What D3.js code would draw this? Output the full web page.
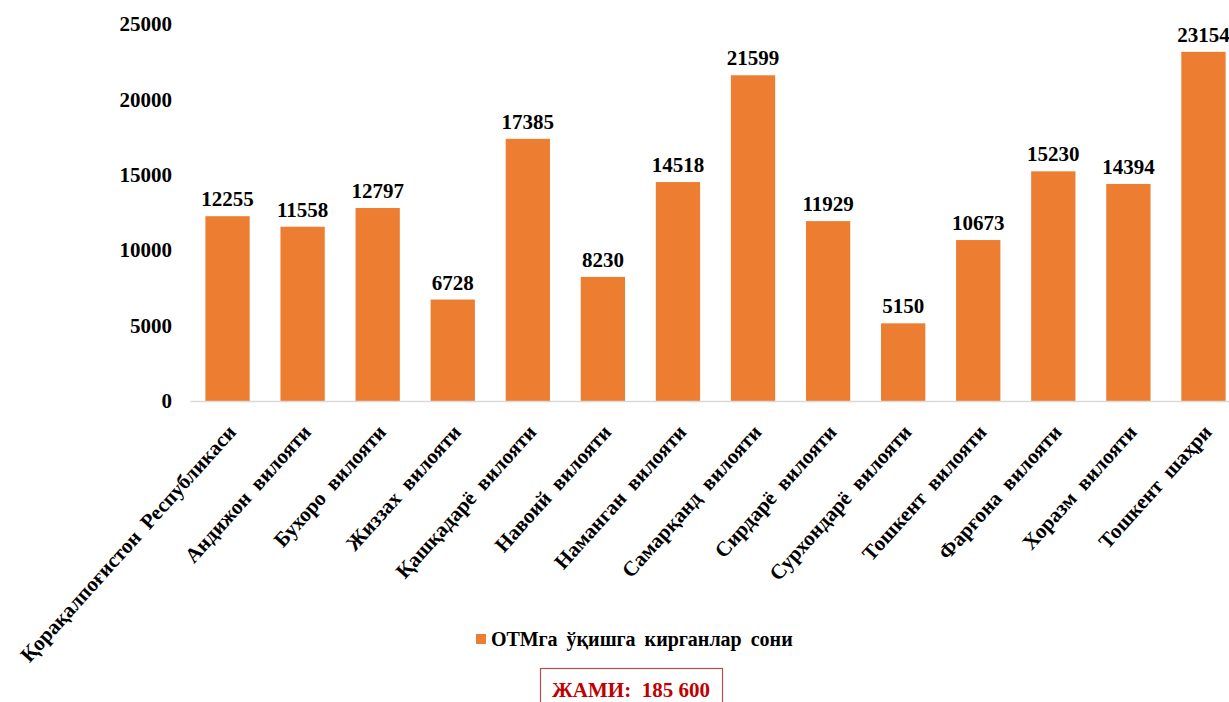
<!DOCTYPE html>
<html>
<head>
<meta charset="utf-8">
<script src="https://cdn.jsdelivr.net/npm/d3@7"></script>
<style>
  body { margin: 0; background: #fff; overflow: hidden; }
  text { font-family: "Liberation Serif", "Times New Roman", serif; font-weight: bold; }
</style>
</head>
<body>
<script>
const regions = [
    'Қорақалпоғистон Республикаси', 'Андижон вилояти', 'Бухоро вилояти', 'Жиззах вилояти',
    'Қашқадарё вилояти', 'Навоий вилояти', 'Наманган вилояти', 'Самарқанд вилояти',
    'Сирдарё вилояти', 'Сурхондарё вилояти', 'Тошкент вилояти', 'Фарғона вилояти',
    'Хоразм вилояти', 'Тошкент шаҳри'
]
const admitted = [12255, 11558, 12797, 6728, 17385, 8230, 14518, 21599, 11929, 5150, 10673, 15230, 14394, 23154]
const yTicks = [0, 5000, 10000, 15000, 20000, 25000]
const seriesName = 'ОТМга ўқишга кирганлар сони'
const totalLabel = 'ЖАМИ:\u2002185 600'

const width = 1229
const height = 702
const barColor = '#ED7D31'

const svg = d3.select('body').append('svg')
    .attr('width', width)
    .attr('height', height)

const x = d3.scaleBand()
    .domain(regions)
    .range([190, 1241])
    .paddingInner(0.41)
    .paddingOuter(0.205)

const y = d3.scaleLinear()
    .domain([0, 25000])
    .range([401, 24])

// y axis labels only, no line
const yAxis = svg.append('g')
    .attr('transform', 'translate(180,0)')
    .call(d3.axisLeft(y).tickValues(yTicks).tickSize(0).tickPadding(8).tickFormat(d3.format('d')))
yAxis.select('.domain').remove()
yAxis.selectAll('text')
    .style('font-size', '21px')
    .style('font-family', '"Liberation Serif", serif')
    .style('font-weight', 'bold')
    .attr('fill', '#000')

// bars
svg.selectAll('rect.bar')
    .data(admitted)
    .enter().append('rect')
    .attr('class', 'bar')
    .attr('x', (d, i) => x(regions[i]))
    .attr('y', d => y(d))
    .attr('width', x.bandwidth())
    .attr('height', d => y(0) - y(d))
    .attr('fill', barColor)

// value labels
svg.selectAll('text.val')
    .data(admitted)
    .enter().append('text')
    .attr('class', 'val')
    .attr('x', (d, i) => x(regions[i]) + x.bandwidth() / 2)
    .attr('y', d => y(d) - 10)
    .attr('text-anchor', 'middle')
    .style('font-size', '21px')
    .attr('fill', '#000')
    .text(d => d)

// x axis
const xAxis = svg.append('g')
    .attr('transform', `translate(0,${y(0)})`)
    .call(d3.axisBottom(x).tickSize(0).tickPadding(0))
xAxis.select('.domain').attr('stroke', '#d9d9d9').attr('stroke-width', 1.5)
xAxis.selectAll('text')
    .attr('text-anchor', 'end')
    .attr('transform', 'translate(4,27) rotate(-48)')
    .attr('dy', '0.35em')
    .attr('y', 0)
    .style('font-size', '21px')
    .style('word-spacing', '5px')
    .style('font-family', '"Liberation Serif", serif')
    .style('font-weight', 'bold')
    .attr('fill', '#000')

// legend
const legend = svg.append('g').attr('transform', 'translate(476,634)')
legend.append('rect')
    .attr('width', 10)
    .attr('height', 10)
    .attr('fill', barColor)
legend.append('text')
    .attr('x', 15)
    .attr('y', 5)
    .attr('dy', '0.35em')
    .style('font-size', '20px')
    .style('word-spacing', '4px')
    .attr('fill', '#000')
    .text(seriesName)

// total box
svg.append('rect')
    .attr('x', 540.5)
    .attr('y', 668.5)
    .attr('width', 182)
    .attr('height', 40)
    .attr('fill', 'none')
    .attr('stroke', '#b0504a')
    .attr('stroke-width', 1.2)
svg.append('text')
    .attr('x', 631)
    .attr('y', 697)
    .attr('text-anchor', 'middle')
    .style('font-size', '21px')
    .attr('fill', '#c00000')
    .text(totalLabel)
</script>
</body>
</html>
